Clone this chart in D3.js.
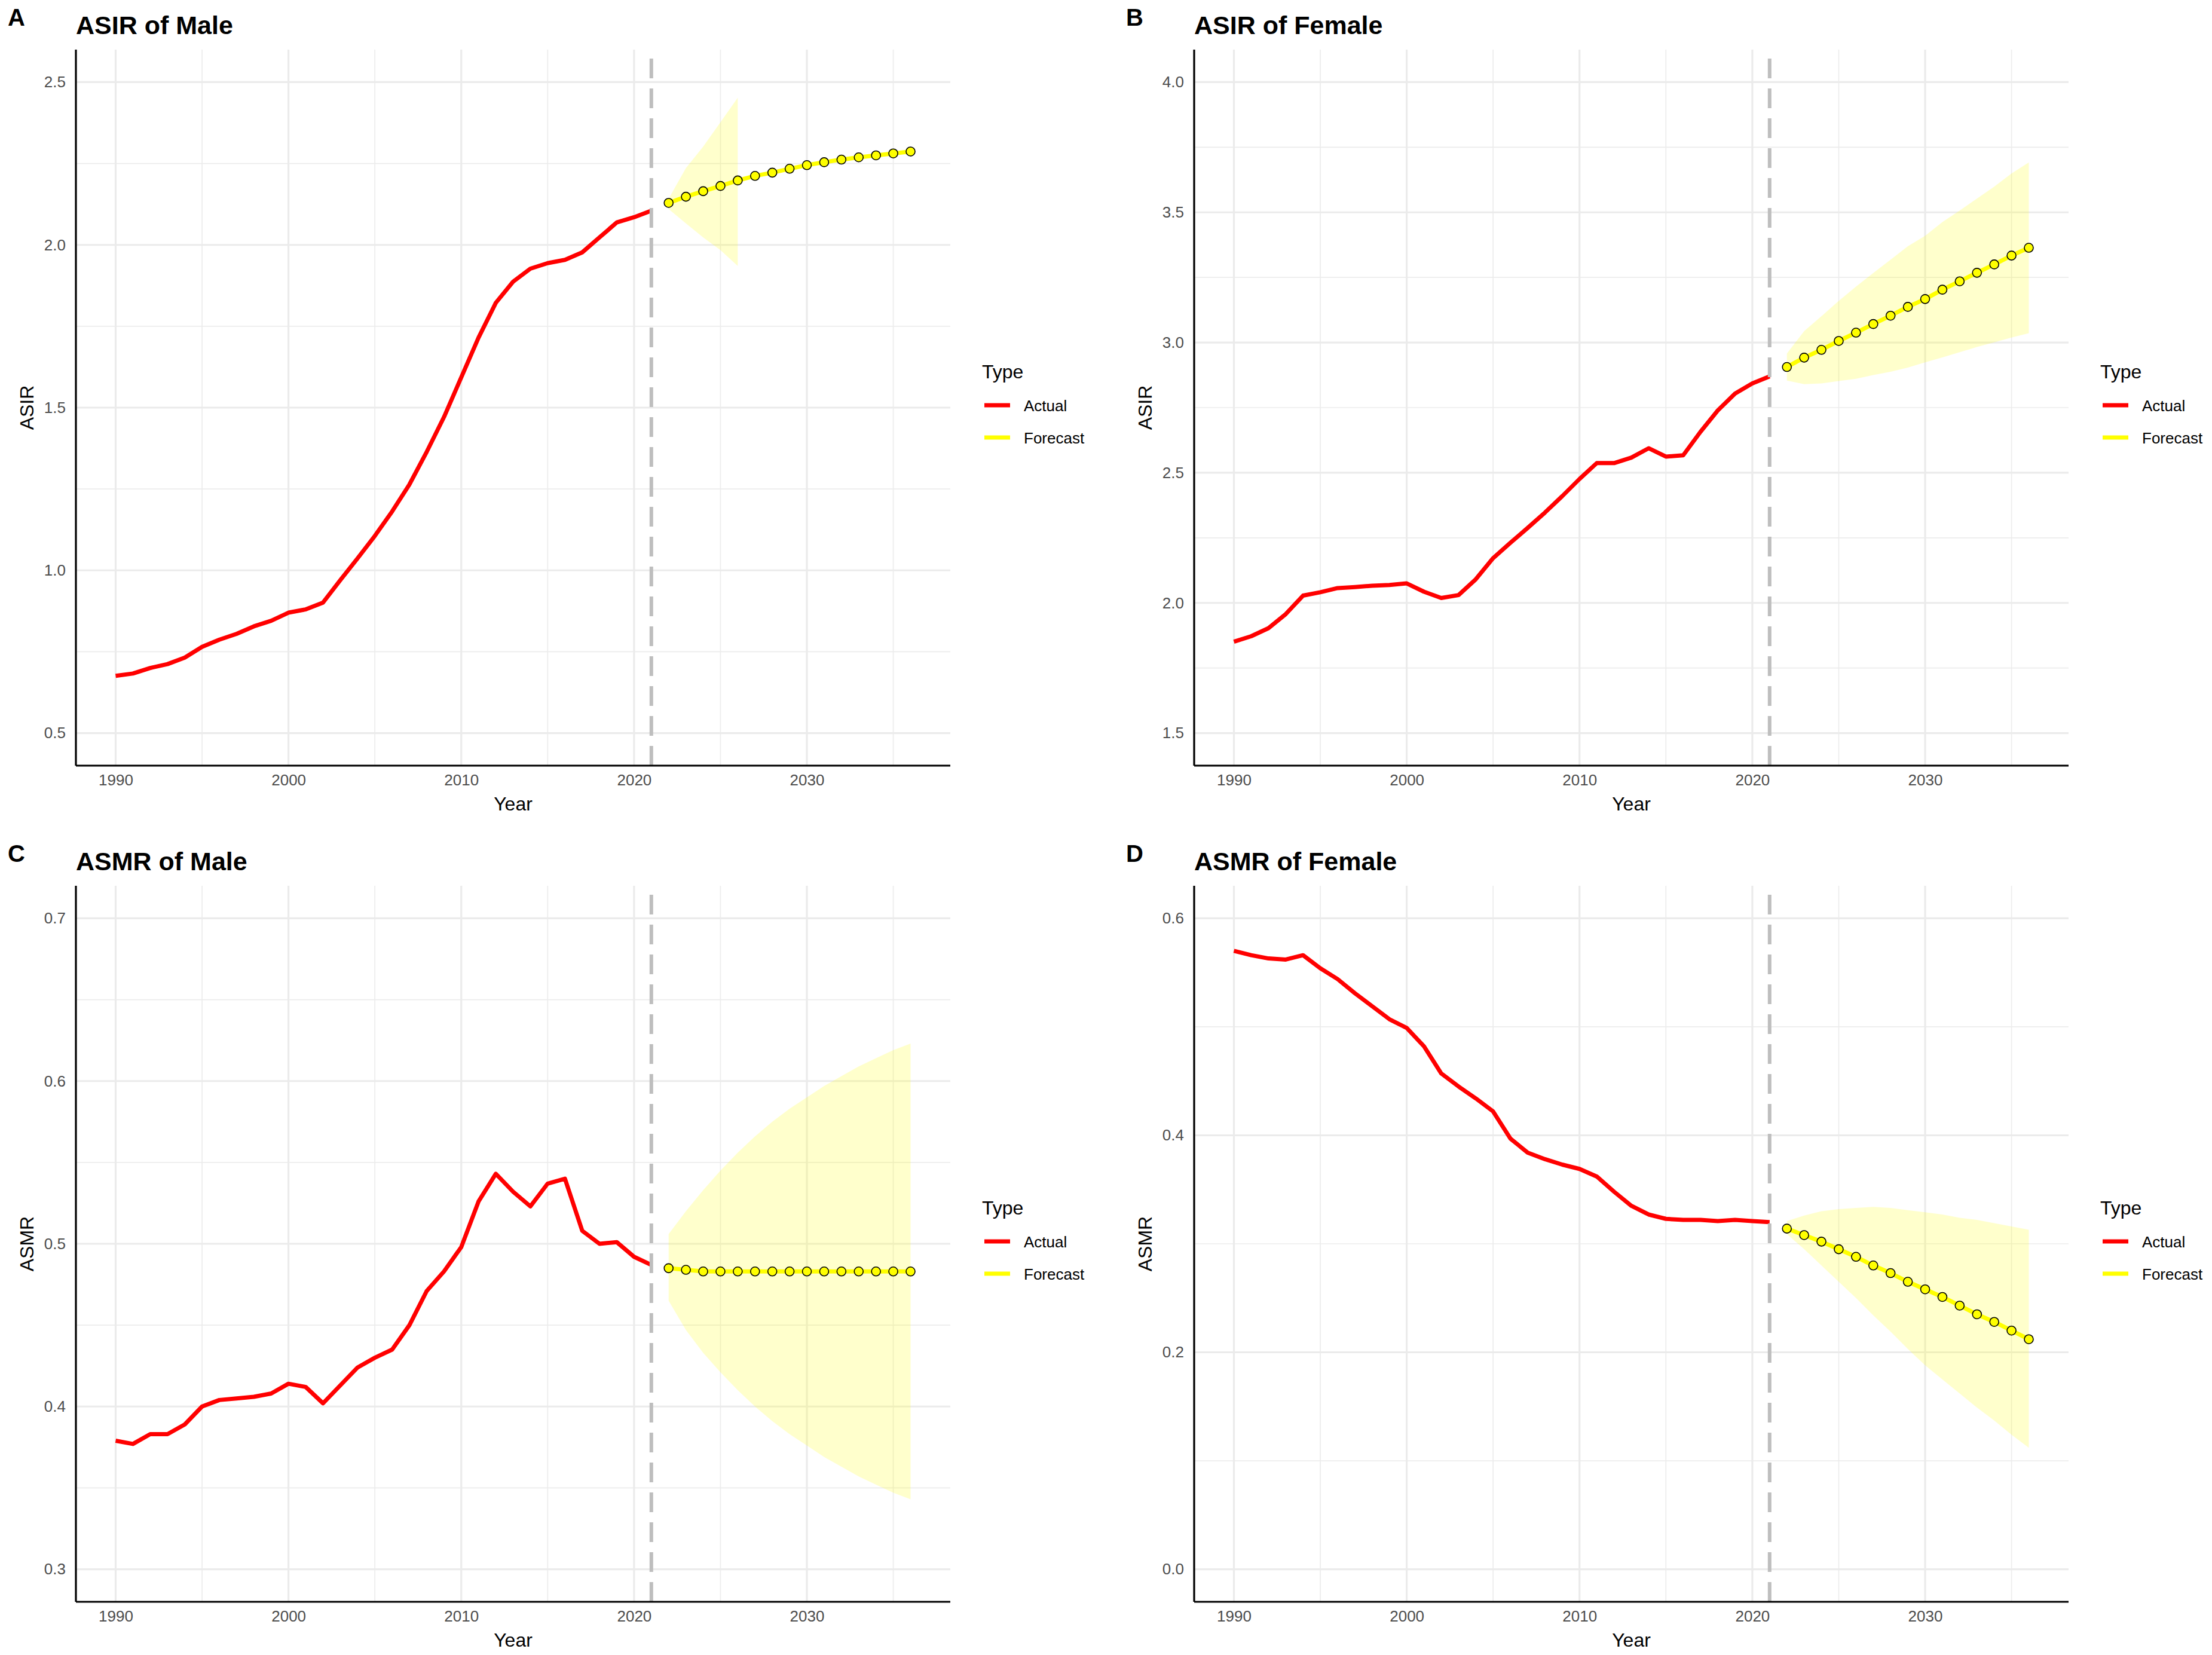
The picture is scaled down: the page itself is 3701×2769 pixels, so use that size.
<!DOCTYPE html>
<html>
  <head>
    <meta charset="utf-8">
    <title>ASIR / ASMR forecast</title>
    <script type="text/javascript" src="https://cdn.jsdelivr.net/npm/d3@7"></script>
    <style type="text/css">
      body { margin: 0; background: #fff; }
      text { font-family: "Liberation Sans", Arial, sans-serif; }
    </style>
  </head>
  <body>
    <script type="text/javascript">
      // canvas
      var w = 3701;
      var h = 2769;

      // years
      var actualYears = [1990, 1991, 1992, 1993, 1994, 1995, 1996, 1997, 1998, 1999,
                         2000, 2001, 2002, 2003, 2004, 2005, 2006, 2007, 2008, 2009,
                         2010, 2011, 2012, 2013, 2014, 2015, 2016, 2017, 2018, 2019,
                         2020, 2021];
      var forecastYears = [2022, 2023, 2024, 2025, 2026, 2027, 2028, 2029, 2030,
                           2031, 2032, 2033, 2034, 2035, 2036];
      var xTicks = [1990, 2000, 2010, 2020, 2030];
      var xMinor = [1995, 2005, 2015, 2025, 2035];

      // A: ASIR of Male
      var asirMaleActual = [0.676, 0.683, 0.700, 0.712, 0.732, 0.765, 0.787, 0.805, 0.828, 0.845,
                            0.870, 0.880, 0.901, 0.970, 1.037, 1.106, 1.181, 1.264, 1.364, 1.471,
                            1.593, 1.715, 1.822, 1.887, 1.927, 1.944, 1.954, 1.977, 2.023, 2.069,
                            2.085, 2.105];
      var asirMaleForecast = [2.129, 2.148, 2.165, 2.181, 2.198, 2.212, 2.222, 2.234, 2.245,
                              2.254, 2.262, 2.269, 2.275, 2.281, 2.287];
      // interval only given for 2022-2026
      var asirMaleUpper = [2.142, 2.236, 2.302, 2.377, 2.452];
      var asirMaleLower = [2.110, 2.066, 2.023, 1.984, 1.935];

      // B: ASIR of Female
      var asirFemaleActual = [1.851, 1.872, 1.903, 1.957, 2.028, 2.041, 2.057, 2.061, 2.066, 2.069,
                              2.075, 2.043, 2.019, 2.030, 2.091, 2.172, 2.231, 2.288, 2.347, 2.410,
                              2.476, 2.537, 2.537, 2.558, 2.594, 2.562, 2.567, 2.657, 2.739, 2.804,
                              2.843, 2.870];
      var asirFemaleForecast = [2.906, 2.942, 2.972, 3.006, 3.038, 3.071, 3.103, 3.137, 3.167,
                                3.203, 3.235, 3.268, 3.300, 3.334, 3.364];
      var asirFemaleUpper = [2.958, 3.044, 3.101, 3.160, 3.215, 3.267, 3.318, 3.370, 3.410,
                             3.463, 3.507, 3.553, 3.599, 3.649, 3.692];
      var asirFemaleLower = [2.854, 2.840, 2.843, 2.852, 2.861, 2.875, 2.888, 2.904, 2.924,
                             2.943, 2.963, 2.983, 3.001, 3.019, 3.036];

      // C: ASMR of Male
      var asmrMaleActual = [0.379, 0.377, 0.383, 0.383, 0.389, 0.400, 0.404, 0.405, 0.406, 0.408,
                            0.414, 0.412, 0.402, 0.413, 0.424, 0.430, 0.435, 0.450, 0.471, 0.483,
                            0.498, 0.526, 0.543, 0.532, 0.523, 0.537, 0.540, 0.508, 0.500, 0.501,
                            0.492, 0.487];
      var asmrMaleForecast = [0.485, 0.484, 0.483, 0.483, 0.483, 0.483, 0.483, 0.483, 0.483,
                              0.483, 0.483, 0.483, 0.483, 0.483, 0.483];
      var asmrMaleUpper = [0.506, 0.520, 0.533, 0.545, 0.556, 0.566, 0.575, 0.583, 0.590,
                           0.597, 0.603, 0.609, 0.614, 0.619, 0.623];
      var asmrMaleLower = [0.465, 0.447, 0.433, 0.421, 0.410, 0.400, 0.391, 0.383, 0.376,
                           0.369, 0.363, 0.357, 0.352, 0.347, 0.343];

      // D: ASMR of Female
      var asmrFemaleActual = [0.570, 0.566, 0.563, 0.562, 0.566, 0.554, 0.544, 0.531, 0.519, 0.507,
                              0.499, 0.482, 0.457, 0.445, 0.434, 0.422, 0.397, 0.384, 0.378, 0.373,
                              0.369, 0.362, 0.348, 0.335, 0.327, 0.323, 0.322, 0.322, 0.321, 0.322,
                              0.321, 0.320];
      var asmrFemaleForecast = [0.314, 0.308, 0.302, 0.295, 0.288, 0.280, 0.273, 0.265, 0.258,
                                0.251, 0.243, 0.235, 0.228, 0.220, 0.212];
      var asmrFemaleUpper = [0.321, 0.326, 0.330, 0.332, 0.333, 0.334, 0.333, 0.331, 0.329,
                             0.327, 0.324, 0.322, 0.319, 0.316, 0.313];
      var asmrFemaleLower = [0.309, 0.295, 0.280, 0.265, 0.250, 0.234, 0.219, 0.203, 0.188,
                             0.175, 0.162, 0.149, 0.137, 0.124, 0.112];

      // y ticks per panel
      var yTicksA = [0.5, 1.0, 1.5, 2.0, 2.5];
      var yTicksB = [1.5, 2.0, 2.5, 3.0, 3.5, 4.0];
      var yTicksC = [0.3, 0.4, 0.5, 0.6, 0.7];
      var yTicksD = [0.0, 0.2, 0.4, 0.6];

      var panels = [
        { tag: "A", title: "ASIR of Male", ylab: "ASIR", ox: 0, oy: 0,
          ylim: [0.5, 2.5], yTicks: yTicksA, actual: asirMaleActual, fc: asirMaleForecast,
          up: asirMaleUpper, lo: asirMaleLower },
        { tag: "B", title: "ASIR of Female", ylab: "ASIR", ox: 1871, oy: 0,
          ylim: [1.5, 4.0], yTicks: yTicksB, actual: asirFemaleActual, fc: asirFemaleForecast,
          up: asirFemaleUpper, lo: asirFemaleLower },
        { tag: "C", title: "ASMR of Male", ylab: "ASMR", ox: 0, oy: 1399,
          ylim: [0.3, 0.7], yTicks: yTicksC, actual: asmrMaleActual, fc: asmrMaleForecast,
          up: asmrMaleUpper, lo: asmrMaleLower },
        { tag: "D", title: "ASMR of Female", ylab: "ASMR", ox: 1871, oy: 1399,
          ylim: [0.0, 0.6], yTicks: yTicksD, actual: asmrFemaleActual, fc: asmrFemaleForecast,
          up: asmrFemaleUpper, lo: asmrFemaleLower }
      ];

      // plot box inside each panel
      var L = 127, R = 1590, T = 83, B = 1281;

      var svg = d3.select("body")
                  .append("svg")
                  .attr("width", w)
                  .attr("height", h);

      svg.append("rect").attr("width", w).attr("height", h).attr("fill", "#fff");

      panels.forEach(function(p) {
        var g = svg.append("g").attr("transform", "translate(" + p.ox + "," + p.oy + ")");

        // ggplot style 5% expansion
        var xPad = (2036 - 1990) * 0.05;
        var yPad = (p.ylim[1] - p.ylim[0]) * 0.05;
        var x = d3.scaleLinear().domain([1990 - xPad, 2036 + xPad]).range([L, R]);
        var y = d3.scaleLinear().domain([p.ylim[0] - yPad, p.ylim[1] + yPad]).range([B, T]);

        var step = p.yTicks[1] - p.yTicks[0];
        var yMinor = p.yTicks.slice(0, -1).map(function(v) { return v + step / 2; });

        // grid
        var grid = g.append("g");
        grid.selectAll(".ymin").data(yMinor).enter().append("line")
            .attr("x1", L).attr("x2", R)
            .attr("y1", function(d) { return y(d); }).attr("y2", function(d) { return y(d); })
            .attr("stroke", "#ececec").attr("stroke-width", 1.7);
        grid.selectAll(".xmin").data(xMinor).enter().append("line")
            .attr("y1", T).attr("y2", B)
            .attr("x1", function(d) { return x(d); }).attr("x2", function(d) { return x(d); })
            .attr("stroke", "#ececec").attr("stroke-width", 1.7);
        grid.selectAll(".ymaj").data(p.yTicks).enter().append("line")
            .attr("x1", L).attr("x2", R)
            .attr("y1", function(d) { return y(d); }).attr("y2", function(d) { return y(d); })
            .attr("stroke", "#ebebeb").attr("stroke-width", 3.2);
        grid.selectAll(".xmaj").data(xTicks).enter().append("line")
            .attr("y1", T).attr("y2", B)
            .attr("x1", function(d) { return x(d); }).attr("x2", function(d) { return x(d); })
            .attr("stroke", "#ebebeb").attr("stroke-width", 3.2);

        // ribbon
        var band = p.up.map(function(u, i) {
          return { yr: forecastYears[i], up: u, lo: p.lo[i] };
        });
        g.append("path")
         .datum(band)
         .attr("d", d3.area()
                      .x(function(d) { return x(d.yr); })
                      .y0(function(d) { return y(d.lo); })
                      .y1(function(d) { return y(d.up); }))
         .attr("fill", "#ffff00")
         .attr("fill-opacity", 0.2);

        // actual + forecast
        var act = p.actual.map(function(v, i) { return [actualYears[i], v]; });
        var fc = p.fc.map(function(v, i) { return [forecastYears[i], v]; });
        var line = d3.line()
                     .x(function(d) { return x(d[0]); })
                     .y(function(d) { return y(d[1]); });

        g.append("path").datum(act).attr("d", line)
         .attr("fill", "none").attr("stroke", "#ff0000")
         .attr("stroke-width", 7).attr("stroke-linejoin", "round");

        g.append("path").datum(fc).attr("d", line)
         .attr("fill", "none").attr("stroke", "#ffff00")
         .attr("stroke-width", 7).attr("stroke-linejoin", "round");

        g.selectAll(".pt").data(fc).enter().append("circle")
         .attr("cx", function(d) { return x(d[0]); })
         .attr("cy", function(d) { return y(d[1]); })
         .attr("r", 7.5)
         .attr("fill", "#ffff00")
         .attr("stroke", "#000")
         .attr("stroke-width", 1.6);

        // dashed line at 2021
        g.append("line")
         .attr("x1", x(2021)).attr("x2", x(2021))
         .attr("y1", B).attr("y2", T)
         .attr("stroke", "#bebebe")
         .attr("stroke-width", 6)
         .attr("stroke-dasharray", "33,17");

        // axes (labels only, axis lines drawn below)
        var xAxis = d3.axisBottom(x).tickValues(xTicks).tickSize(0).tickPadding(15)
                      .tickFormat(d3.format("d"));
        var yAxis = d3.axisLeft(y).tickValues(p.yTicks).tickSize(0).tickPadding(17)
                      .tickFormat(d3.format(".1f"));

        var gx = g.append("g").attr("transform", "translate(0," + B + ")").call(xAxis);
        var gy = g.append("g").attr("transform", "translate(" + L + ",0)").call(yAxis);
        [gx, gy].forEach(function(a) {
          a.select(".domain").remove();
          a.selectAll("text")
           .attr("font-family", "Liberation Sans, Arial, sans-serif")
           .attr("font-size", 26)
           .attr("fill", "#4d4d4d");
        });

        g.append("line").attr("x1", L).attr("x2", R).attr("y1", B).attr("y2", B)
         .attr("stroke", "#000").attr("stroke-width", 3.2);
        g.append("line").attr("x1", L).attr("x2", L).attr("y1", T).attr("y2", B)
         .attr("stroke", "#000").attr("stroke-width", 3.2);

        // titles
        g.append("text").text(p.tag)
         .attr("x", 13).attr("y", 43)
         .attr("font-size", 40).attr("font-weight", "bold");
        g.append("text").text(p.title)
         .attr("x", L).attr("y", 57)
         .attr("font-size", 43).attr("font-weight", "bold");
        g.append("text").text("Year")
         .attr("x", (L + R) / 2).attr("y", 1345).attr("dy", "0.35em")
         .attr("text-anchor", "middle").attr("font-size", 32);
        g.append("text").text(p.ylab)
         .attr("transform", "translate(45," + ((T + B) / 2) + ") rotate(-90)")
         .attr("dy", "0.35em")
         .attr("text-anchor", "middle").attr("font-size", 32);

        // legend
        var lg = g.append("g").attr("transform", "translate(1643,0)");
        lg.append("text").text("Type").attr("x", 0).attr("y", 633).attr("font-size", 32);
        var keys = [["Actual", "#ff0000", 678], ["Forecast", "#ffff00", 732]];
        keys.forEach(function(k) {
          lg.append("line").attr("x1", 4).attr("x2", 47).attr("y1", k[2]).attr("y2", k[2])
            .attr("stroke", k[1]).attr("stroke-width", 7);
          lg.append("text").text(k[0]).attr("x", 70).attr("y", k[2]).attr("dy", "0.37em")
            .attr("font-size", 26);
        });
      });
    </script>
  </body>
</html>
